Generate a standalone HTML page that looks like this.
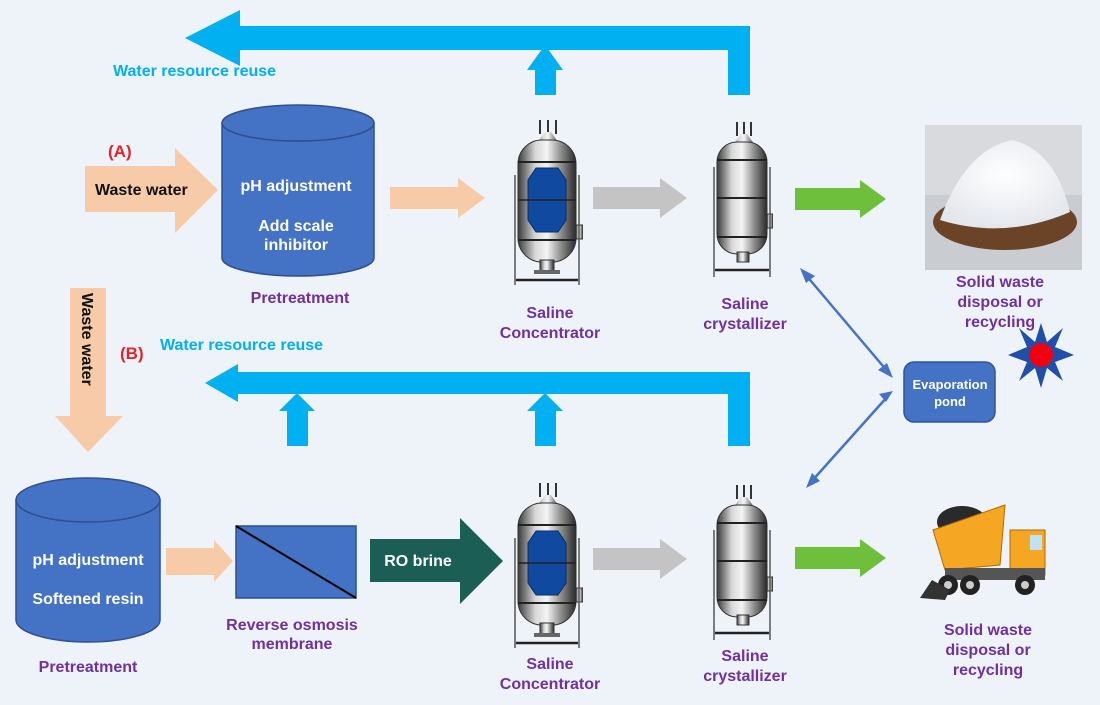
<!DOCTYPE html>
<html><head><meta charset="utf-8"><style>
html,body{margin:0;padding:0;background:#eef3fa;}
svg{display:block;}
text{font-family:"Liberation Sans",Arial,sans-serif;font-weight:bold;}
.p{fill:#7030a0;font-size:16px;text-anchor:middle;}
.w{fill:#fff;font-size:16px;text-anchor:middle;}
.c{fill:#00b0f0;font-size:16px;}
</style></head><body>
<svg width="1100" height="705" viewBox="0 0 1100 705" xmlns="http://www.w3.org/2000/svg">
<defs>
<linearGradient id="met" x1="0" x2="1" y1="0" y2="0">
<stop offset="0" stop-color="#3a3a3a"/><stop offset="0.3" stop-color="#d8d8d8"/><stop offset="0.5" stop-color="#f4f4f4"/><stop offset="0.75" stop-color="#8a8a8a"/><stop offset="1" stop-color="#2a2a2a"/>
</linearGradient>
<symbol id="conc" viewBox="0 0 70 165" width="70" height="165">
<line x1="27" y1="0" x2="27" y2="14" stroke="#333" stroke-width="2"/><line x1="35" y1="0" x2="35" y2="14" stroke="#333" stroke-width="2"/><line x1="43" y1="0" x2="43" y2="14" stroke="#333" stroke-width="2"/>
<path d="M32 12 L38 12 L48 26 L22 26 Z" fill="url(#met)"/>
<rect x="5" y="20" width="58" height="122" rx="24" fill="url(#met)" stroke="#333"/>
<line x1="5" y1="42" x2="63" y2="42" stroke="#222" stroke-width="2"/><line x1="5" y1="120" x2="63" y2="120" stroke="#222" stroke-width="2"/>
<polygon points="23,48 45,48 53,60 53,100 45,112 23,112 15,100 15,60" fill="#0f4aa0" stroke="#0a2d66"/>
<line x1="5" y1="80" x2="63" y2="80" stroke="#222" stroke-width="1.5"/>
<rect x="63" y="105" width="7" height="14" fill="url(#met)" stroke="#333"/>
<rect x="27" y="140" width="14" height="12" fill="url(#met)" stroke="#333"/><rect x="21" y="150" width="26" height="4" fill="#666"/>
<path d="M2 55 L2 165 M66 55 L66 165" stroke="#555" stroke-width="1.5" fill="none"/>
<line x1="3" y1="160" x2="65" y2="160" stroke="#222" stroke-width="2.5"/>
</symbol>
<symbol id="cry" viewBox="0 0 60 155" width="60" height="155">
<line x1="24" y1="0" x2="24" y2="14" stroke="#333" stroke-width="2"/><line x1="31" y1="0" x2="31" y2="14" stroke="#333" stroke-width="2"/><line x1="38" y1="0" x2="38" y2="14" stroke="#333" stroke-width="2"/>
<path d="M28 12 L34 12 L44 26 L18 26 Z" fill="url(#met)"/>
<rect x="4" y="20" width="50" height="112" rx="20" fill="url(#met)" stroke="#333"/>
<line x1="4" y1="38" x2="54" y2="38" stroke="#222" stroke-width="2"/><line x1="4" y1="76" x2="54" y2="76" stroke="#222" stroke-width="2"/><line x1="4" y1="115" x2="54" y2="115" stroke="#222" stroke-width="2"/>
<rect x="54" y="92" width="6" height="14" fill="url(#met)" stroke="#333"/>
<rect x="24" y="130" width="12" height="10" fill="url(#met)" stroke="#333"/>
<path d="M1 45 L1 155 M57 45 L57 155" stroke="#555" stroke-width="1.5" fill="none"/>
<line x1="2" y1="148" x2="56" y2="148" stroke="#222" stroke-width="2.5"/>
</symbol>
<radialGradient id="salt" cx="0.5" cy="0.4" r="0.6"><stop offset="0" stop-color="#ffffff"/><stop offset="1" stop-color="#e4e7ec"/></radialGradient>
</defs>

<path d="M185 38 L240 10 L240 26 L750 26 L750 95 L728 95 L728 50 L240 50 L240 66 Z" fill="#00b0f0"/>
<path d="M545 45 L563 70 L556 70 L556 95 L535 95 L535 70 L527 70 Z" fill="#00b0f0"/>
<text class="c" x="113" y="76">Water resource reuse</text>

<text x="108" y="157" fill="#e8202a" font-size="17" style="font-weight:bold">(A)</text>
<path d="M85 166 L175 166 L175 148 L218 190 L175 233 L175 212 L85 212 Z" fill="#f8cba8"/>
<text x="95" y="195" fill="#111" font-size="16">Waste water</text>

<path d="M222 123 L222 258 A76 18 0 0 0 374 258 L374 123 Z" fill="#4472c4" stroke="#2f4f8f" stroke-width="1.5"/>
<ellipse cx="298" cy="123" rx="76" ry="18" fill="#4472c4" stroke="#2f4f8f" stroke-width="1.5"/>
<text class="w" x="296" y="191">pH adjustment</text>
<text class="w" x="296" y="231">Add scale</text>
<text class="w" x="296" y="250">inhibitor</text>
<text class="p" x="300" y="303">Pretreatment</text>

<path d="M390 187 L458 187 L458 178 L485 198 L458 218 L458 209 L390 209 Z" fill="#f8cba8"/>
<use href="#conc" x="513" y="120"/>
<path d="M593 187 L660 187 L660 178 L687 198 L660 218 L660 209 L593 209 Z" fill="#c4c4c4"/>
<use href="#cry" x="713" y="122"/>
<path d="M795 188 L860 188 L860 180 L886 199 L860 218 L860 210 L795 210 Z" fill="#6ebf3b"/>
<rect x="925" y="125" width="157" height="145" fill="#c9ccd0"/>
<rect x="925" y="125" width="157" height="70" fill="#d8dadd"/>
<ellipse cx="1005" cy="222" rx="72" ry="28" fill="#6b4428"/>
<path d="M940 220 Q965 150 1012 140 Q1055 150 1070 212 Q1005 240 940 220 Z" fill="url(#salt)"/>
<text class="p" x="550" y="318">Saline</text><text class="p" x="550" y="338">Concentrator</text>
<text class="p" x="745" y="309">Saline</text><text class="p" x="745" y="329">crystallizer</text>
<text class="p" x="1000" y="287">Solid waste</text><text class="p" x="1000" y="307">disposal or</text><text class="p" x="1000" y="327">recycling</text>

<polygon points="1041,323 1047,342 1063,328 1055,347 1074,355 1055,362 1063,381 1047,368 1041,388 1035,368 1019,381 1027,362 1008,355 1027,347 1019,328 1035,342" fill="#1f4fa8"/>
<circle cx="1041" cy="355" r="12" fill="#f00010"/>

<rect x="904" y="362" width="91" height="60" rx="10" fill="#4472c4" stroke="#2f5597" stroke-width="1.5"/>
<text class="w" x="950" y="389" style="font-size:13px">Evaporation</text>
<text class="w" x="950" y="406" style="font-size:13px">pond</text>
<g stroke="#4472c4" stroke-width="2.5" fill="#4472c4">
<line x1="805" y1="274" x2="888" y2="372"/>
<line x1="888" y1="396" x2="811" y2="482"/>
</g>
<polygon points="800,268 815,276 806,283" fill="#4472c4"/>
<polygon points="893,378 878,370 887,363" fill="#4472c4"/>
<polygon points="893,391 886,402 879,394" fill="#4472c4"/>
<polygon points="806,488 812,473 820,481" fill="#4472c4"/>

<text x="120" y="359" fill="#e8202a" font-size="17" style="font-weight:bold">(B)</text>
<text class="c" x="160" y="350">Water resource reuse</text>
<path d="M70 288 L106 288 L106 416 L123 416 L88 452 L55 416 L70 416 Z" fill="#f8cba8"/>
<text x="82" y="293" fill="#111" font-size="16" transform="rotate(90 82 293)" style="font-weight:bold">Waste water</text>

<path d="M205 383 L238 364 L238 372 L750 372 L750 446 L728 446 L728 394 L238 394 L238 402 Z" fill="#00b0f0"/>
<path d="M297 393 L315 411 L308 411 L308 446 L287 446 L287 411 L279 411 Z" fill="#00b0f0"/>
<path d="M545 393 L563 411 L556 411 L556 446 L535 446 L535 411 L527 411 Z" fill="#00b0f0"/>

<path d="M16 500 L16 620 A72 22 0 0 0 160 620 L160 500 Z" fill="#4472c4" stroke="#2f4f8f" stroke-width="1.5"/>
<ellipse cx="88" cy="500" rx="72" ry="22" fill="#4472c4" stroke="#2f4f8f" stroke-width="1.5"/>
<text class="w" x="88" y="565">pH adjustment</text>
<text class="w" x="88" y="604">Softened resin</text>
<text class="p" x="88" y="672">Pretreatment</text>

<path d="M166 548 L214 548 L214 540 L233 561 L214 582 L214 575 L166 575 Z" fill="#f8cba8"/>
<rect x="236" y="526" width="120" height="72" fill="#4472c4" stroke="#2f4f8f" stroke-width="1.5"/>
<line x1="236" y1="526" x2="356" y2="598" stroke="#000" stroke-width="2"/>
<text class="p" x="292" y="630">Reverse osmosis</text><text class="p" x="292" y="649">membrane</text>

<path d="M370 539 L460 539 L460 518 L503 561 L460 604 L460 582 L370 582 Z" fill="#1a5e55"/>
<text class="w" x="418" y="566">RO brine</text>
<use href="#conc" x="513" y="483"/>
<path d="M593 548 L660 548 L660 539 L687 559 L660 579 L660 570 L593 570 Z" fill="#c4c4c4"/>
<use href="#cry" x="713" y="485"/>
<path d="M795 547 L860 547 L860 539 L886 558 L860 577 L860 569 L795 569 Z" fill="#6ebf3b"/>

<g>
<ellipse cx="962" cy="522" rx="25" ry="16" fill="#2a2a2a"/>
<polygon points="933,530 1005,505 1000,565 945,570" fill="#f5a623" stroke="#b06a00"/>
<rect x="1010" y="530" width="35" height="45" fill="#f5a623" stroke="#b06a00"/>
<rect x="1030" y="535" width="12" height="15" fill="#bfe3f5"/>
<rect x="945" y="568" width="100" height="12" fill="#555"/>
<circle cx="948" cy="585" r="10" fill="#222"/><circle cx="970" cy="585" r="10" fill="#222"/><circle cx="1025" cy="585" r="10" fill="#222"/>
<circle cx="948" cy="585" r="4" fill="#ccc"/><circle cx="970" cy="585" r="4" fill="#ccc"/><circle cx="1025" cy="585" r="4" fill="#ccc"/>
<polygon points="920,598 932,580 950,590 945,600" fill="#333"/>
</g>
<text class="p" x="745" y="661">Saline</text><text class="p" x="745" y="681">crystallizer</text>
<text class="p" x="550" y="669">Saline</text><text class="p" x="550" y="689">Concentrator</text>
<text class="p" x="988" y="635">Solid waste</text><text class="p" x="988" y="655">disposal or</text><text class="p" x="988" y="675">recycling</text>
</svg>
</body></html>
